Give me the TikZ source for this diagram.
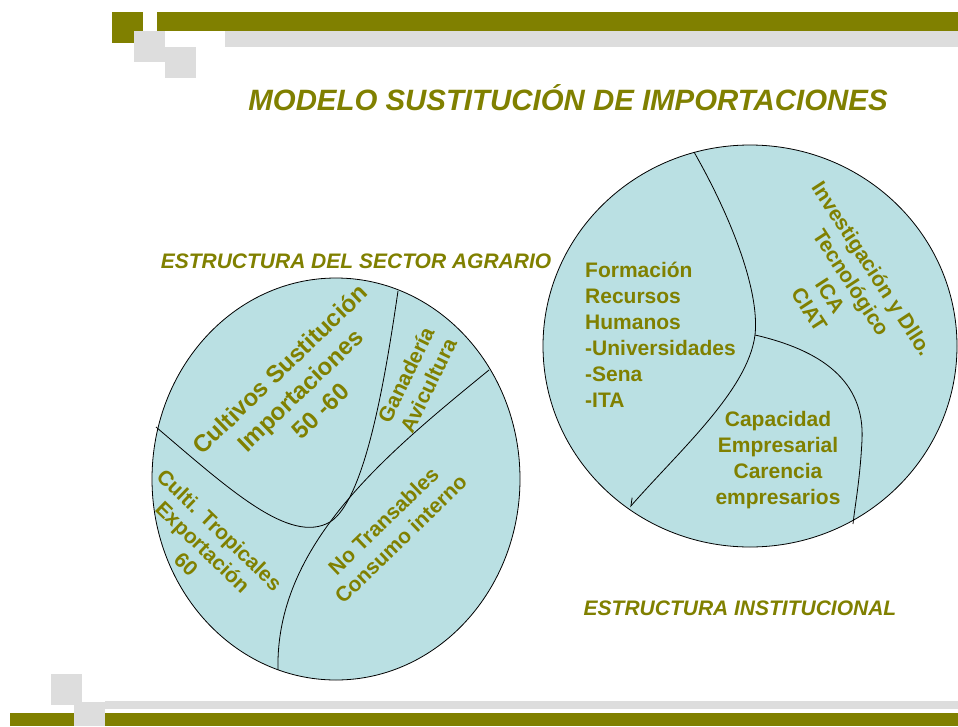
\documentclass[tikz,border=0pt]{standalone}
\usepackage{fontspec}
\setmainfont{Liberation Sans}
\usetikzlibrary{shapes.geometric, arrows.meta}
\definecolor{oliva}{RGB}{128,128,0}
\definecolor{gris}{RGB}{221,221,221}
\definecolor{agua}{RGB}{186,224,227}

\begin{document}
\begin{tikzpicture}[x=1pt, y=-1pt,
	zona/.style={ellipse, draw=black, fill=agua, line width=0.8pt, inner sep=0pt, outer sep=0pt},
	texto/.style={text=oliva, font=\bfseries\fontsize{21}{25}\selectfont, align=center, inner sep=0pt},
	rotulo/.style={text=oliva, font=\bfseries\itshape\fontsize{21}{25}\selectfont, inner sep=0pt},
	linea/.style={black, line width=0.8pt}]
	\useasboundingbox (0, 0) rectangle (958, 726);

	% franjas de arriba
	\fill[oliva] (112, 12) rectangle (143, 43);
	\fill[oliva] (157, 12) rectangle (958, 31);
	\fill[gris] (134, 31) rectangle (165, 62);
	\fill[gris] (165, 47) rectangle (196, 78);
	\fill[gris] (225, 31) rectangle (958, 47);

	% franjas de abajo
	\fill[gris] (51, 674) rectangle (82, 705);
	\fill[gris] (105, 701) rectangle (958, 709);
	\fill[oliva] (10, 713) rectangle (958, 726);
	\fill[gris] (74, 702) rectangle (105, 726);

	\node[rotulo, font=\bfseries\itshape\fontsize{29.4}{35}\selectfont, anchor=base] (titulo) at (568, 110) {MODELO SUSTITUCIÓN DE IMPORTACIONES};

	\node[zona, minimum width=368, minimum height=402] (agro) at (336, 479) {};
	\node[zona, minimum width=414, minimum height=402] (inst) at (750, 346) {};

	% divisiones del sector agrario
	\coordinate (a1) at (156, 427);
	\coordinate (a2) at (398, 291);
	\coordinate (b1) at (489, 370);
	\coordinate (b2) at (278, 670);
	\draw[linea] (a1) .. controls (230, 490) and (290, 545) .. (330, 522) .. controls (365, 500) and (385, 380) .. (a2);
	\draw[linea] (b1) .. controls (385, 455) and (275, 545) .. (b2);

	% divisiones institucionales
	\coordinate (c1) at (694, 152);
	\coordinate (c2) at (755, 335);
	\coordinate (c3) at (630, 507);
	\coordinate (d1) at (853, 524);
	\draw[linea, -{Straight Barb[length=7pt, width=9pt, right]}] (c1) .. controls (730, 215) and (760, 290) .. (c2) .. controls (748, 390) and (680, 450) .. (c3);
	\draw[linea] (c2) .. controls (820, 350) and (865, 380) .. (862, 440) .. controls (860, 480) and (855, 505) .. (d1);

	\node[texto, font=\bfseries\fontsize{24}{29}\selectfont, rotate=44] (cultivos) at (300, 390) {Cultivos Sustitución\\Importaciones\\50 -60};
	\node[texto, rotate=64] (ganaderia) at (417, 380) {Ganadería\\Avicultura};
	\node[texto, font=\bfseries\fontsize{21}{24}\selectfont, rotate=-44] (tropicales) at (203, 547) {Culti. Tropicales\\Exportación\\60};
	\node[texto, rotate=44] (notransables) at (392, 530) {No Transables\\Consumo interno};

	\node[texto, font=\bfseries\fontsize{21}{26}\selectfont, align=left, anchor=west] (formacion) at (585, 335) {Formación\\Recursos\\Humanos\\-Universidades\\-Sena\\-ITA};
	\node[texto, font=\bfseries\fontsize{21}{26}\selectfont] (capacidad) at (778, 460) {Capacidad\\Empresarial\\Carencia\\empresarios};
	\node[texto, rotate=-57] (investigacion) at (841, 289) {Investigación y Dllo.\\Tecnológico\\ICA\\CIAT};

	\node[rotulo, anchor=base] (agrario) at (356, 268) {ESTRUCTURA DEL SECTOR AGRARIO};
	\node[rotulo, anchor=base] (institucional) at (740, 615) {ESTRUCTURA INSTITUCIONAL};
\end{tikzpicture}
\end{document}
